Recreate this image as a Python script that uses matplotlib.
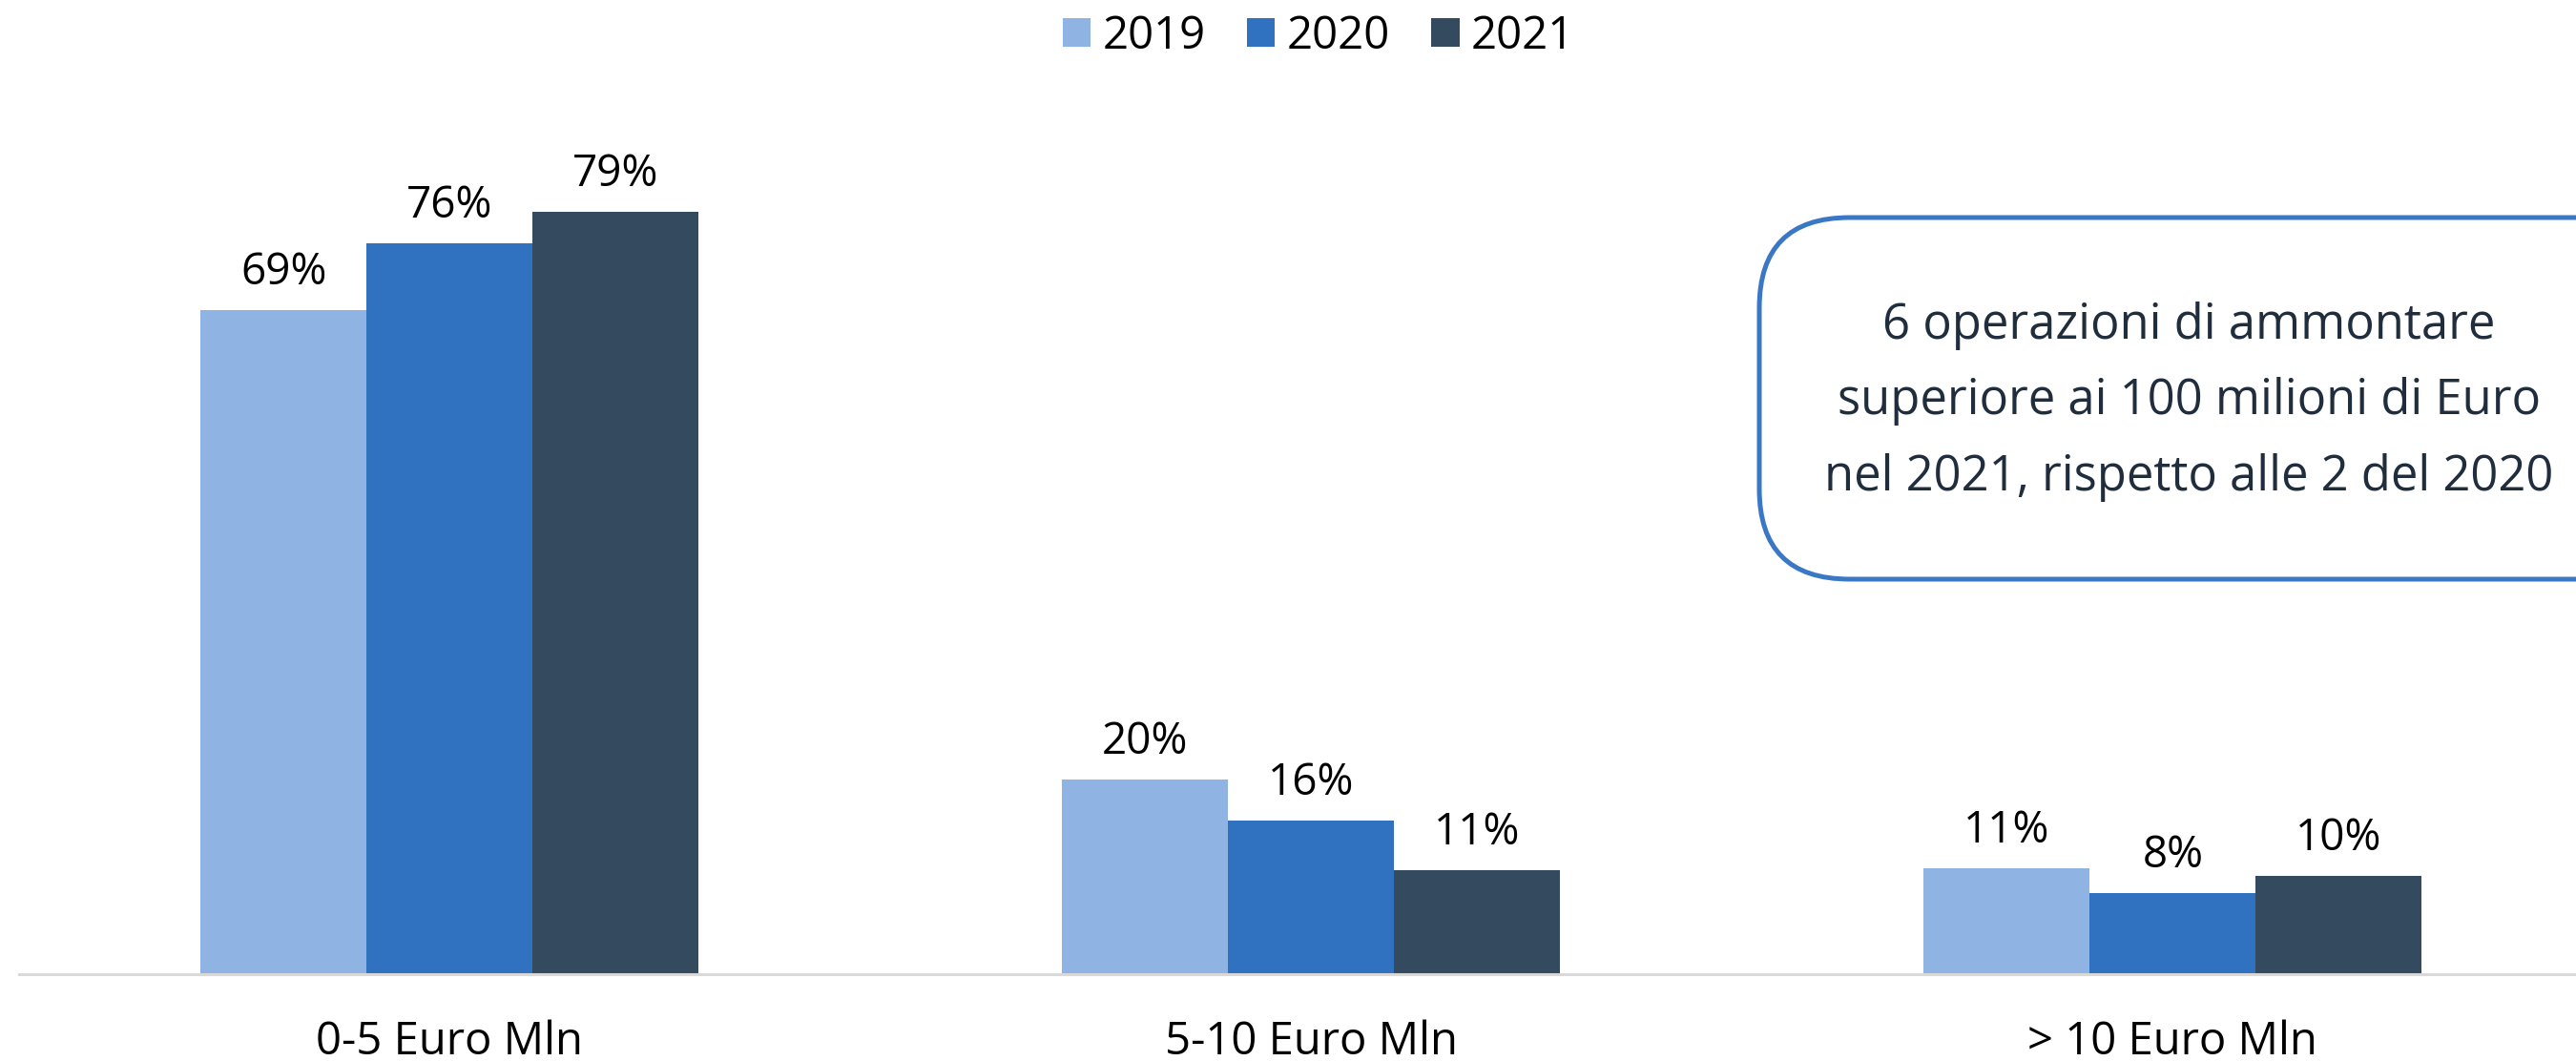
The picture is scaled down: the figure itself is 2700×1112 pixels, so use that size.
import matplotlib
matplotlib.use("Agg")
import matplotlib.pyplot as plt
from matplotlib.patches import FancyBboxPatch, Patch
import numpy as np

categories = ["0-5 Euro Mln", "5-10 Euro Mln", "> 10 Euro Mln"]
years = ["2019", "2020", "2021"]
v2019 = [68.8, 20.2, 11.0]
v2020 = [75.7, 15.9, 8.4]
v2021 = [79.0, 10.8, 10.2]
series = [v2019, v2020, v2021]
colors = ["#8FB3E2", "#3071C0", "#344A5F"]
note_text = "6 operazioni di ammontare\nsuperiore ai 100 milioni di Euro\nnel 2021, rispetto alle 2 del 2020"

plt.rcParams['font.family'] = ['Open Sans', 'DejaVu Sans']

W, H = 2700, 1112
fig = plt.figure(figsize=(W / 100, H / 100), dpi=100)
ax = fig.add_axes([20 / W, (H - 1021) / H, (W - 20) / W, 1021 / H])

x = np.arange(len(categories))
bw = 0.1927
for i, (vals, col, yr) in enumerate(zip(series, colors, years)):
    pos = x + (i - 1) * bw
    bars = ax.bar(pos, vals, width=bw, color=col, label=yr, zorder=2)
    for b, v in zip(bars, vals):
        ax.annotate(f"{v:.0f}%", (b.get_x() + b.get_width() / 2, v),
                    xytext=(0, 19.5), textcoords="offset points",
                    ha="center", va="baseline", fontsize=33, color="black")

ax.set_xlim(-0.4995, 2.468)
ax.set_ylim(0, 100.9)
for s in ["top", "right", "left"]:
    ax.spines[s].set_visible(False)
ax.spines["bottom"].set_color("#D9D9D9")
ax.spines["bottom"].set_linewidth(2.2)
ax.set_yticks([])
ax.set_xticks(x)
ax.set_xticklabels(categories, fontsize=34, color="black")
ax.tick_params(axis="x", length=0, pad=34)

# note box (extends past the right edge, as in the reference)
box = FancyBboxPatch((1844 / W, (H - 607) / H), (2850 - 1844) / W, (607 - 228) / H,
                     boxstyle="round,pad=0,rounding_size=0.035",
                     transform=fig.transFigure, facecolor="white",
                     edgecolor="#3A78C6", linewidth=3.6, mutation_aspect=W / H,
                     clip_on=False, zorder=1)
fig.patches.append(box)
fig.text(2294 / W, 1 - 421 / H, note_text, ha="center", va="center",
         multialignment="center", fontsize=36.5, color="#1F2D3D",
         linespacing=1.72, zorder=5)

handles = [Patch(facecolor=c, edgecolor="none") for c in colors]
fig.legend(handles, years, loc="center", bbox_to_anchor=(1382 / W, 1 - 38 / H),
           ncol=3, frameon=False, fontsize=34, handlelength=0.62,
           handleheight=0.62, handletextpad=0.26, columnspacing=0.92,
           borderpad=0, borderaxespad=0)

fig.savefig("out.png", dpi=100, facecolor="white")
